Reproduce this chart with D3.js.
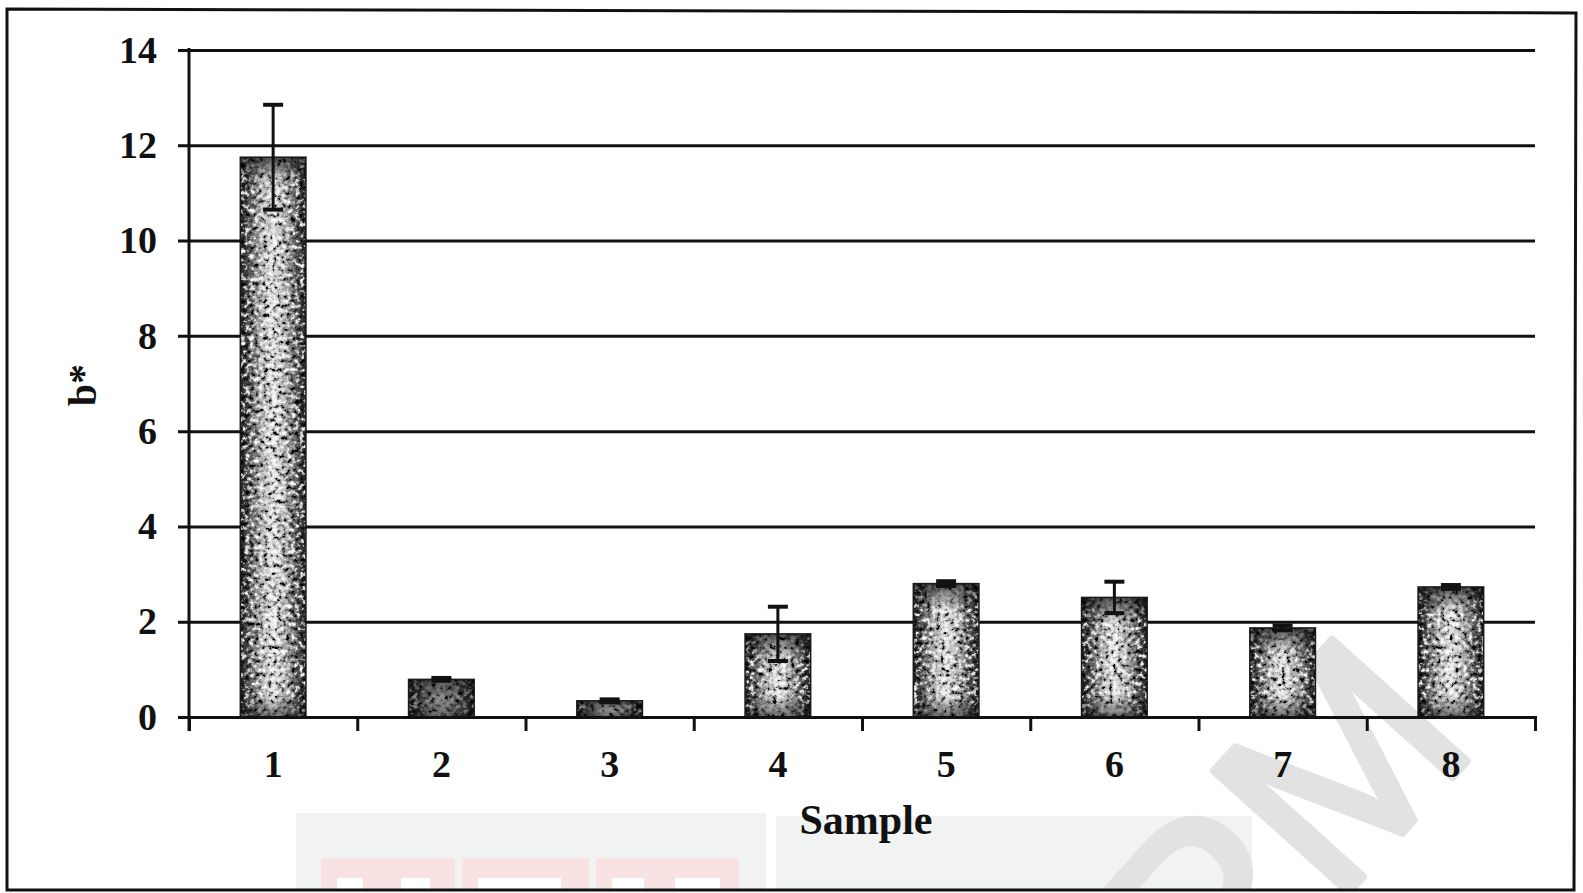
<!DOCTYPE html>
<html>
<head>
<meta charset="utf-8">
<script src="https://cdn.jsdelivr.net/npm/d3@7"></script>
<style>
  body { margin: 0; background: #fff; }
  text { font-family: "Liberation Serif", "Times New Roman", serif; font-weight: bold; fill: #111; }
</style>
</head>
<body>
<script>
// data
const samples = ["1", "2", "3", "4", "5", "6", "7", "8"];
const bStar = [11.75, 0.79, 0.34, 1.745, 2.8, 2.51, 1.87, 2.73]; // mean b*
const bStarSD = [1.1, 0.03, 0.03, 0.57, 0.05, 0.33, 0.05, 0.04]; // error bars
const yTicks = [0, 2, 4, 6, 8, 10, 12, 14];

const W = 1583, H = 893;
const plotL = 189, plotR = 1535, plotT = 50, plotB = 717;

const svg = d3.select("body").append("svg")
  .attr("width", W).attr("height", H);

const defs = svg.append("defs");

// speckled fill for the bars
const hg = defs.append("linearGradient").attr("id", "hgrad")
  .attr("x1", 0).attr("x2", 1).attr("y1", 0).attr("y2", 0);
[[0, "#222"], [0.12, "#5a5a5a"], [0.32, "#b8b8b8"], [0.5, "#e8e8e8"], [0.68, "#b8b8b8"], [0.88, "#5a5a5a"], [1, "#222"]]
  .forEach(s => hg.append("stop").attr("offset", s[0]).attr("stop-color", s[1]));

const f = defs.append("filter").attr("id", "speckle")
  .attr("x", 0).attr("y", 0).attr("width", "100%").attr("height", "100%");
f.append("feTurbulence").attr("type", "fractalNoise").attr("baseFrequency", 0.22)
  .attr("numOctaves", 3).attr("seed", 11).attr("result", "n");
f.append("feColorMatrix").attr("in", "n").attr("type", "matrix")
  .attr("values", "0 0 0 0 0  0 0 0 0 0  0 0 0 0 0  -4 0 0 0 2.05").attr("result", "dark");
f.append("feColorMatrix").attr("in", "n").attr("type", "matrix")
  .attr("values", "0 0 0 0 1  0 0 0 0 1  0 0 0 0 1  4 0 0 0 -2.15").attr("result", "light");
const fm = f.append("feMerge").attr("result", "m");
fm.append("feMergeNode").attr("in", "SourceGraphic");
fm.append("feMergeNode").attr("in", "light");
fm.append("feMergeNode").attr("in", "dark");
f.append("feComposite").attr("in", "m").attr("in2", "SourceGraphic").attr("operator", "in");

defs.append("clipPath").attr("id", "frameclip")
  .append("rect").attr("x", 8).attr("y", 11).attr("width", 1566).attr("height", 878);

// scales
const y = d3.scaleLinear().domain([0, 14]).range([plotB, plotT]);
const x = d3.scaleBand().domain(samples).range([plotL, plotR])
  .paddingInner(0.61).paddingOuter(0.305);
const xEdge = d3.scaleLinear().domain([0, samples.length]).range([plotL, plotR]);

// watermark (scan background)
const wm = svg.append("g").attr("clip-path", "url(#frameclip)");
wm.append("rect").attr("x", 296).attr("y", 813).attr("width", 470).attr("height", 80).attr("fill", "#f1f2f2");
wm.append("rect").attr("x", 776).attr("y", 816).attr("width", 476).attr("height", 80).attr("fill", "#f1f2f2");
[[321, 134], [462, 127], [596, 143]].forEach(p => {
  wm.append("rect").attr("x", p[0]).attr("y", 858).attr("width", p[1]).attr("height", 40).attr("fill", "#f8e2e2");
});
// tops of the white letters inside the pink blocks
[[337, 26], [401, 29], [478, 83], [612, 32], [675, 45]].forEach(p => {
  wm.append("rect").attr("x", p[0]).attr("y", 878).attr("width", p[1]).attr("height", 20).attr("fill", "#ffffff");
});
wm.append("text")
  .attr("transform", "translate(1482,745) rotate(-48)")
  .attr("text-anchor", "end")
  .style("font-family", "'Liberation Sans', Arial, sans-serif")
  .style("font-weight", "normal")
  .style("font-size", "265px")
  .style("fill", "#e2e2e2")
  .style("stroke", "#e2e2e2")
  .style("stroke-width", "7px")
  .style("stroke-linejoin", "round")
  .text("UPM");

// horizontal gridlines with left tick marks
const yAxis = svg.append("g")
  .attr("transform", `translate(178,0)`)
  .call(d3.axisLeft(y).tickValues(yTicks).tickSize(-(plotR - 178)).tickPadding(21));
yAxis.select(".domain").remove();
yAxis.selectAll(".tick line").attr("stroke", "#111").attr("stroke-width", 3);
yAxis.selectAll(".tick text").style("font-size", "38px").attr("fill", "#111")
  .style("font-family", "'Liberation Serif', 'Times New Roman', serif").style("font-weight", "bold");

// bars
const bars = svg.append("g");
bars.selectAll("rect.bar").data(bStar).join("rect")
  .attr("class", "bar")
  .attr("x", (d, i) => x(samples[i]))
  .attr("y", d => y(d))
  .attr("width", x.bandwidth())
  .attr("height", d => y(0) - y(d))
  .attr("fill", "url(#hgrad)")
  .attr("filter", "url(#speckle)");

// darker top / bottom of each bar
bStar.forEach((d, i) => {
  const t = y(d), h = y(0) - y(d);
  const g = defs.append("linearGradient").attr("id", "vg" + i)
    .attr("gradientUnits", "userSpaceOnUse")
    .attr("x1", 0).attr("x2", 0).attr("y1", t).attr("y2", t + h);
  const a = Math.min(0.5, 26 / h), b = Math.max(0.5, 1 - 22 / h);
  g.append("stop").attr("offset", 0).attr("stop-color", "#000").attr("stop-opacity", 0.65);
  g.append("stop").attr("offset", a).attr("stop-color", "#000").attr("stop-opacity", h < 60 ? 0.4 : 0);
  g.append("stop").attr("offset", b).attr("stop-color", "#000").attr("stop-opacity", h < 60 ? 0.4 : 0);
  g.append("stop").attr("offset", 1).attr("stop-color", "#000").attr("stop-opacity", 0.55);
});
bars.selectAll("rect.shade").data(bStar).join("rect")
  .attr("class", "shade")
  .attr("x", (d, i) => x(samples[i]))
  .attr("y", d => y(d))
  .attr("width", x.bandwidth())
  .attr("height", d => y(0) - y(d))
  .attr("fill", (d, i) => `url(#vg${i})`)
  .attr("stroke", "#1a1a1a").attr("stroke-width", 1.5);

// error bars
const eb = svg.append("g").attr("stroke", "#111");
const cx = i => x(samples[i]) + x.bandwidth() / 2;
eb.selectAll("line.v").data(bStar).join("line").attr("class", "v")
  .attr("x1", (d, i) => cx(i)).attr("x2", (d, i) => cx(i))
  .attr("y1", (d, i) => y(d + bStarSD[i])).attr("y2", (d, i) => y(d - bStarSD[i]))
  .attr("stroke-width", 3);
[1, -1].forEach(sgn => {
  eb.selectAll("line.c" + (sgn > 0 ? "t" : "b")).data(bStar).join("line")
    .attr("class", "c" + (sgn > 0 ? "t" : "b"))
    .attr("x1", (d, i) => cx(i) - 10).attr("x2", (d, i) => cx(i) + 10)
    .attr("y1", (d, i) => y(d + sgn * bStarSD[i])).attr("y2", (d, i) => y(d + sgn * bStarSD[i]))
    .attr("stroke-width", 4);
});

// y axis line
svg.append("line").attr("x1", plotL).attr("x2", plotL).attr("y1", plotT - 2).attr("y2", plotB + 14)
  .attr("stroke", "#111").attr("stroke-width", 3);

// x axis: boundary ticks + labels
const xTicks = svg.append("g").attr("transform", `translate(0,${plotB})`)
  .call(d3.axisBottom(xEdge).ticks(samples.length).tickSize(14).tickFormat(""));
xTicks.select(".domain").attr("stroke", "#111").attr("stroke-width", 3);
xTicks.selectAll(".tick line").attr("stroke", "#111").attr("stroke-width", 3);

const xLab = svg.append("g").attr("transform", `translate(0,${plotB})`)
  .call(d3.axisBottom(x).tickSize(0).tickPadding(33));
xLab.select(".domain").remove();
xLab.selectAll(".tick text").style("font-size", "38px").attr("fill", "#111")
  .style("font-family", "'Liberation Serif', 'Times New Roman', serif").style("font-weight", "bold");

// axis titles
svg.append("text").attr("x", 866).attr("y", 834).attr("text-anchor", "middle")
  .style("font-size", "42px").text("Sample");
svg.append("text").attr("transform", "translate(96,385) rotate(-90)").attr("text-anchor", "middle")
  .style("font-size", "40px").text("b*");

// outer frame
svg.append("path")
  .attr("d", "M7,9 L1576,13 L1574,890 L7,890 Z")
  .attr("fill", "none").attr("stroke", "#111").attr("stroke-width", 3);
</script>
</body>
</html>
